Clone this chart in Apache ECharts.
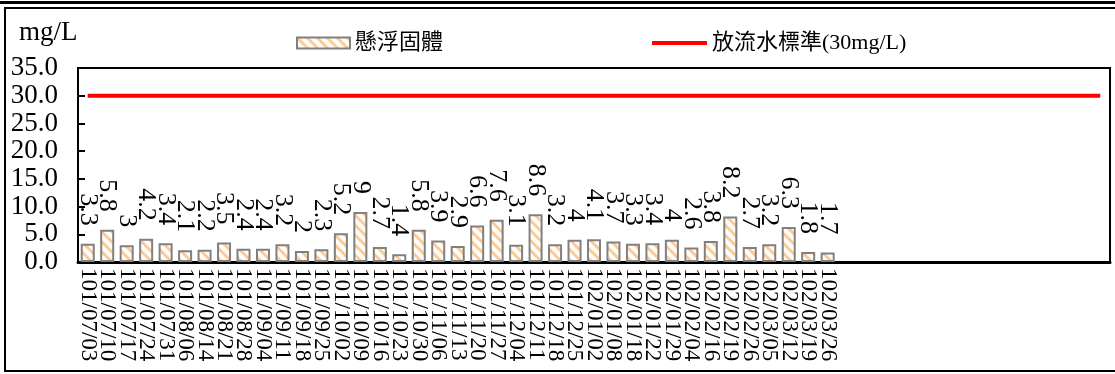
<!DOCTYPE html>
<html>
<head>
<meta charset="utf-8">
<script src="https://cdn.jsdelivr.net/npm/echarts@6/dist/echarts.min.js"></script>
<style>
    html, body { margin: 0; padding: 0; background: #fff; }
    #chart { width: 1115px; height: 374px; }
</style>
</head>
<body>
<div id="chart"></div>
<script>
    // 採樣日期
    var dates = ['101/07/03', '101/07/10', '101/07/17', '101/07/24', '101/07/31', '101/08/06', '101/08/14',
        '101/08/21', '101/08/28', '101/09/04', '101/09/11', '101/09/18', '101/09/25', '101/10/02',
        '101/10/09', '101/10/16', '101/10/23', '101/10/30', '101/11/06', '101/11/13', '101/11/20',
        '101/11/27', '101/12/04', '101/12/11', '101/12/18', '101/12/25', '102/01/02', '102/01/08',
        '102/01/18', '102/01/22', '102/01/29', '102/02/04', '102/02/16', '102/02/19', '102/02/26',
        '102/03/05', '102/03/12', '102/03/19', '102/03/26'];
    // 懸浮固體 (mg/L)
    var ssValues = [3.3, 5.8, 3, 4.2, 3.4, 2.1, 2.2, 3.5, 2.4, 2.4, 3.2, 2, 2.3, 5.2,
        9, 2.7, 1.4, 5.8, 3.9, 2.9, 6.6, 7.6, 3.1, 8.6, 3.2, 4, 4.1, 3.7,
        3.3, 3.4, 4, 2.6, 3.8, 8.2, 2.7, 3.2, 6.3, 1.8, 1.7];
    // 放流水標準
    var standardValue = 30;
    var emptySlots = 14;
    var yMin = 0, yMax = 35, yStep = 5;

    var categories = dates.slice();
    for (var i = 0; i < emptySlots; i++) {
        categories.push('_' + i);
    }
    var standardLine = categories.map(function () { return standardValue; });

    // 斜線填色
    function stripePattern() {
        var c = document.createElement('canvas');
        c.width = 10;
        c.height = 10;
        var ctx = c.getContext('2d');
        ctx.fillStyle = '#ffffff';
        ctx.fillRect(0, 0, 10, 10);
        ctx.strokeStyle = '#FFC993';
        ctx.lineWidth = 3;
        ctx.beginPath();
        ctx.moveTo(0, 0); ctx.lineTo(10, 10);
        ctx.moveTo(-5, 5); ctx.lineTo(5, 15);
        ctx.moveTo(5, -5); ctx.lineTo(15, 5);
        ctx.stroke();
        return c;
    }

    var serif = '"Liberation Serif", "Noto Sans CJK TC", serif';
    var legendText = { fontFamily: serif, fontSize: 22, color: '#000' };
    var chart = echarts.init(document.getElementById('chart'));
    chart.setOption({
        animation: false,
        title: {
            text: 'mg/L',
            left: 14,
            top: 14,
            textStyle: { fontFamily: serif, fontSize: 27, fontWeight: 'normal', color: '#000' }
        },
        legend: [
            {
                left: 291,
                top: 27,
                itemWidth: 53,
                itemHeight: 11,
                itemGap: 3,
                textStyle: legendText,
                data: [{ name: '懸浮固體', icon: 'rect' }]
            },
            {
                left: 647,
                top: 27,
                itemWidth: 55,
                itemHeight: 4,
                textStyle: legendText,
                data: [{ name: '放流水標準(30mg/L)', icon: 'rect', itemStyle: { color: '#ff0000', borderWidth: 0 } }]
            }
        ],
        grid: {
            left: 78,
            top: 68,
            right: 5,
            bottom: 112,
            show: true,
            borderColor: '#000',
            borderWidth: 2
        },
        xAxis: {
            type: 'category',
            data: categories,
            axisLine: { lineStyle: { color: '#000', width: 3 } },
            axisTick: { show: false },
            axisLabel: {
                interval: 0,
                rotate: -90,
                margin: 6,
                color: '#000',
                fontFamily: serif,
                fontSize: 23,
                formatter: function (v) { return v.charAt(0) === '_' ? '' : v; }
            }
        },
        yAxis: {
            type: 'value',
            min: yMin,
            max: yMax,
            interval: yStep,
            splitLine: { show: false },
            axisLine: { show: true, lineStyle: { color: '#000', width: 2 } },
            axisTick: { show: true, inside: true, length: 7, lineStyle: { color: '#000', width: 2 } },
            axisLabel: {
                margin: 20,
                color: '#000',
                fontFamily: serif,
                fontSize: 27,
                formatter: function (v) { return v.toFixed(1); }
            }
        },
        series: [
            {
                name: '懸浮固體',
                type: 'bar',
                data: ssValues,
                barCategoryGap: '28%',
                itemStyle: {
                    color: { image: stripePattern(), repeat: 'repeat' },
                    borderColor: '#808080',
                    borderWidth: 2
                },
                label: {
                    show: true,
                    position: 'top',
                    rotate: -90,
                    align: 'right',
                    verticalAlign: 'middle',
                    distance: 18,
                    color: '#000',
                    fontFamily: serif,
                    fontSize: 26
                }
            },
            {
                name: '放流水標準(30mg/L)',
                type: 'line',
                data: standardLine,
                symbol: 'none',
                lineStyle: { color: '#ff0000', width: 4 },
                itemStyle: { color: '#ff0000' }
            }
        ],
        graphic: [
            { type: 'rect', shape: { x: 0, y: 1, width: 1115, height: 3 }, style: { fill: '#000' } },
            { type: 'rect', shape: { x: 5, y: 8, width: 1115, height: 363 }, style: { fill: 'none', stroke: '#000', lineWidth: 2 } }
        ]
    });
</script>
</body>
</html>
